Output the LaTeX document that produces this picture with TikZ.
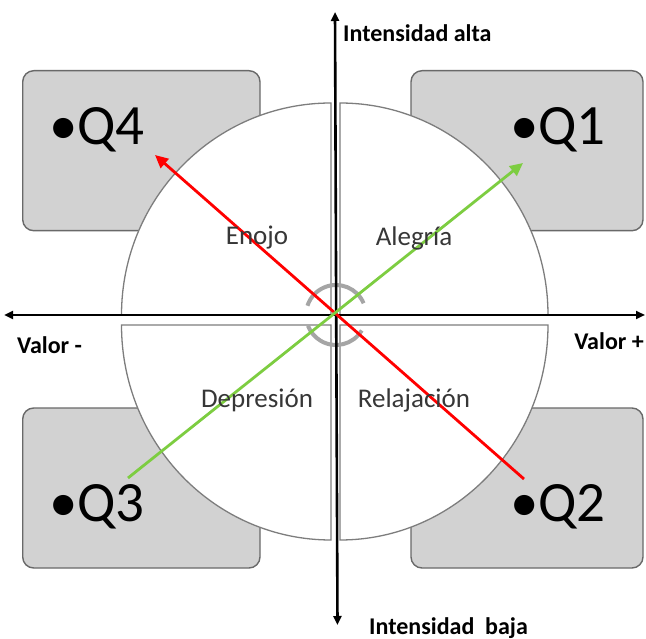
\documentclass[tikz,border=0pt]{standalone}
\usepackage{fontspec}
\setmainfont{Carlito}
\usetikzlibrary{arrows.meta}
\definecolor{boxfill}{RGB}{210,210,210}
\definecolor{boxline}{RGB}{105,105,105}
\definecolor{quartline}{RGB}{125,125,125}
\definecolor{emored}{RGB}{255,0,0}
\definecolor{emogreen}{RGB}{125,205,65}
\definecolor{markgray}{RGB}{165,165,165}
\definecolor{labgray}{RGB}{55,55,55}
\begin{document}
\begin{tikzpicture}[x=1pt,y=-1pt,
  qbox/.style={draw=boxline,fill=boxfill,line width=1.4pt,rounded corners=11pt},
  quarter/.style={draw=quartline,fill=white,line width=1.3pt},
  axis/.style={draw=black,line width=2.6pt,-{Triangle[length=9pt,width=8pt]}},
  emoarrow/.style={line width=2.8pt,-{Triangle[length=13pt,width=12pt]}},
  qlabel/.style={font=\fontsize{57}{57}\selectfont,inner sep=0pt,anchor=west},
  emolabel/.style={font=\fontsize{27}{27}\selectfont,text=labgray,inner sep=0pt},
  axlabel/.style={font=\bfseries\fontsize{24}{24}\selectfont,inner sep=0pt}
]
\useasboundingbox (0,0) rectangle (646,639);
% quadrant boxes
\draw[qbox] (22.7,70.7) rectangle (260,230.7);
\draw[qbox] (411,70.7) rectangle (643,230.7);
\draw[qbox] (22.7,408) rectangle (260,568);
\draw[qbox] (411,408) rectangle (643,568);
% quarters of the circle
\draw[quarter] (331,315) -- (121.5,315) arc[start angle=180, end angle=270, x radius=209.5, y radius=212] -- cycle;
\draw[quarter] (340,315) -- (340,103) arc[start angle=270, end angle=360, x radius=208, y radius=212] -- cycle;
\draw[quarter] (331,325) -- (121.5,325) arc[start angle=180, end angle=90, x radius=209.5, y radius=215] -- cycle;
\draw[quarter] (340,325) -- (548,325) arc[start angle=0, end angle=90, x radius=208, y radius=215] -- cycle;
% centre marker
\coordinate (c) at (336,315);
\draw[markgray,line width=4pt] (c) ++(-23:30) arc[start angle=-23, end angle=-162, radius=30];
\draw[markgray,line width=4pt] (c) ++(31:30) arc[start angle=31, end angle=159, radius=30];
% axes
\coordinate (vtop) at (335,12);
\coordinate (vbot) at (337.5,625);
\coordinate (hl) at (4,315);
\coordinate (hr) at (645,315);
\coordinate (vmid) at (336.2,315);
\draw[axis] (vmid) -- (vtop);
\draw[axis] (vmid) -- (vbot);
\draw[axis] (c) -- (hl);
\draw[axis] (c) -- (hr);
% emotion arrows
\coordinate (redA) at (524,479);
\coordinate (redB) at (155,155);
\coordinate (grnA) at (128,478);
\coordinate (grnB) at (523,163);
\draw[emoarrow,emored] (redA) -- (redB);
\draw[emoarrow,emogreen] (grnA) -- (grnB);
% labels
\node[qlabel] (q4) at (49,130) {•Q4};
\node[qlabel] (q1) at (510,130) {•Q1};
\node[qlabel] (q3) at (49,507) {•Q3};
\node[qlabel] (q2) at (510,507) {•Q2};
\node[emolabel] (enojo) at (257,238) {Enojo};
\node[emolabel] (alegria) at (414,238) {Alegría};
\node[emolabel] (depre) at (257,400) {Depresión};
\node[emolabel] (relaj) at (414,400) {Relajación};
\node[axlabel,anchor=west] (ialta) at (343,33) {Intensidad alta};
\node[axlabel,anchor=west] (ibaja) at (369,628) {Intensidad\ \ baja};
\node[axlabel,anchor=west] (vmin) at (17,345) {Valor -};
\node[axlabel,anchor=east] (vplus) at (644,341) {Valor +};
\end{tikzpicture}
\end{document}
